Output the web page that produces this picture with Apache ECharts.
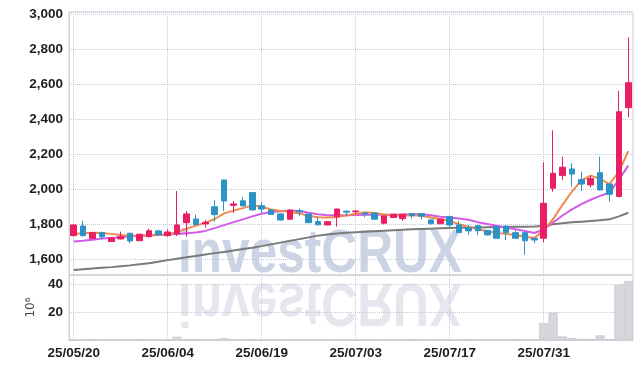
<!DOCTYPE html>
<html><head><meta charset="utf-8">
<script src="https://cdn.jsdelivr.net/npm/echarts@6/dist/echarts.min.js"></script>
<style>html,body{margin:0;padding:0;background:#fff}#c{width:643px;height:369px}</style>
</head><body><div id="c"></div>
<script>
const dates = ['25/05/20','25/05/21','25/05/22','25/05/23','25/05/26','25/05/27','25/05/28','25/05/29','25/05/30','25/06/02',
 '25/06/04','25/06/05','25/06/09','25/06/10','25/06/11','25/06/12','25/06/13','25/06/16','25/06/17','25/06/18',
 '25/06/19','25/06/20','25/06/23','25/06/24','25/06/25','25/06/26','25/06/27','25/06/30','25/07/01','25/07/02',
 '25/07/03','25/07/04','25/07/07','25/07/08','25/07/09','25/07/10','25/07/11','25/07/14','25/07/15','25/07/16',
 '25/07/17','25/07/18','25/07/21','25/07/22','25/07/23','25/07/24','25/07/25','25/07/28','25/07/29','25/07/30',
 '25/07/31','25/08/01','25/08/04','25/08/05','25/08/06','25/08/07','25/08/08','25/08/11','25/08/12','25/08/13'];
const opens  = [1735,1790,1718,1752,1701,1716,1749,1706,1729,1762, 1735,1745,1809,1830,1802,1900,2053,1908,1934,1981,
 1906,1882,1859,1829,1878,1858,1815,1796,1843,1875, 1872,1864,1864,1806,1838,1832,1861,1861,1825,1803,
 1845,1796,1780,1792,1765,1786,1790,1752,1752,1720, 1720,2006,2078,2116,2055,2025,2095,2030,1958,2466];
const closes = [1796,1735,1752,1729,1722,1729,1705,1743,1763,1739, 1756,1796,1859,1798,1811,1855,1933,1916,1905,1882,
 1887,1856,1824,1881,1871,1809,1797,1815,1887,1869, 1876,1858,1829,1847,1857,1857,1850,1846,1803,1829,
 1796,1752,1762,1763,1739,1720,1752,1720,1706,1710, 1920,2091,2126,2087,2030,2061,1996,1971,2443,2609];
const lows   = [1730,1729,1716,1714,1699,1714,1691,1704,1725,1737, 1727,1733,1729,1795,1780,1815,1876,1863,1903,1878,
 1866,1853,1819,1827,1848,1806,1794,1794,1786,1846, 1860,1840,1826,1800,1836,1819,1832,1828,1800,1800,
 1780,1750,1739,1739,1736,1718,1710,1718,1625,1691, 1697,1986,2053,2015,1990,2010,1994,1929,1955,2411];
const highs  = [1800,1819,1755,1758,1724,1758,1750,1745,1775,1769, 1771,1990,1876,1855,1826,1937,2055,1933,1955,1983,
 1926,1884,1861,1883,1890,1860,1840,1817,1889,1878, 1881,1870,1866,1849,1859,1859,1863,1863,1827,1831,
 1847,1819,1796,1794,1767,1788,1792,1765,1754,1722, 2154,2337,2186,2149,2101,2078,2186,2032,2562,2869];
const ma5  = [1745,1748,1752,1750,1745,1738,1735,1735,1738,1740, 1742,1755,1775,1792,1808,1830,1862,1878,1892,1908,
 1900,1884,1876,1872,1862,1848,1840,1838,1842,1850, 1860,1868,1865,1856,1850,1850,1852,1848,1838,1830,
 1818,1800,1785,1772,1760,1750,1745,1738,1728,1722, 1764,1830,1911,1987,2050,2078,2060,2030,2100,2218];
const ma20 = [1701,1706,1712,1718,1722,1726,1730,1733,1736,1739, 1741,1744,1748,1753,1762,1778,1795,1812,1828,1845,
 1860,1870,1875,1878,1876,1866,1857,1852,1851,1852, 1853,1854,1854,1854,1855,1856,1857,1857,1852,1843,
 1838,1833,1826,1812,1802,1792,1782,1772,1762,1750, 1770,1810,1850,1885,1915,1940,1962,1980,2055,2135];
const ma60 = [1539,1543,1547,1551,1555,1560,1565,1571,1577,1586, 1595,1603,1611,1619,1627,1635,1642,1650,1658,1666,
 1675,1685,1695,1705,1715,1725,1735,1742,1747,1751, 1754,1757,1760,1763,1766,1769,1771,1773,1775,1777,
 1779,1780,1781,1782,1783,1784,1785,1786,1786,1787, 1790,1800,1806,1811,1815,1819,1823,1828,1845,1866];
const volumes = [0.2,0.2,0.2,0.2,0.2,0.2,0.2,0.2,0.2,0.2, 0.2,2.3,0.5,0.2,0.2,0.5,1.2,0.2,0.2,0.2,
 0.2,0.2,0.2,0.2,0.2,0.2,0.2,0.2,0.2,0.2, 0.2,0.2,0.2,0.2,0.2,0.2,0.2,0.2,0.2,0.2,
 0.2,0.2,0.2,0.2,0.2,0.2,0.2,0.2,0.2,0.2, 12,19.5,2.6,1.4,0.7,0.7,3.3,0.7,39.3,42.1];
const volumeUnit = '10\u2076';
const watermark = 'investCRUX';

const FONT = "'Liberation Sans','Arial',sans-serif";
const candles = dates.map((d, i) => [opens[i], closes[i], lows[i], highs[i]]);
const split = {show: true, interval: 9, alignWithLabel: true, lineStyle: {type: 'dotted', color: '#c4cad8', width: 1}};
const labelStyle = {fontFamily: FONT, fontSize: 13.5, fontWeight: 'bold', color: '#1e1e1e'};

const chart = echarts.init(document.getElementById('c'), null, {renderer: 'canvas'});
chart.setOption({
  animation: false,
  backgroundColor: '#fff',
  graphic: [
    {type: 'text', z: 0, x: 178, y: 286, scaleX: 0.8, style: {text: watermark, x: 0, y: 0, font: 'bold 62px ' + FONT, fill: '#ccd3e5', textVerticalAlign: 'bottom'}},
    {type: 'text', z: 0, x: 178, y: 270, scaleX: 0.8, scaleY: -1, style: {text: watermark, x: 0, y: 0, font: 'bold 62px ' + FONT, fill: '#e5e6ee', textVerticalAlign: 'bottom'}}
  ],
  grid: [
    {left: 69, right: 10, top: 12, height: 263, show: true, borderColor: '#cfd1d8', borderWidth: 1, backgroundColor: 'transparent'},
    {left: 69, right: 10, top: 275, height: 65, show: true, borderColor: '#cfd1d8', borderWidth: 1, backgroundColor: 'transparent'}
  ],
  xAxis: [
    {type: 'category', gridIndex: 0, data: dates, boundaryGap: true,
     axisLine: {show: false}, axisTick: {show: false}, axisLabel: {show: false}, splitLine: split},
    {type: 'category', gridIndex: 1, data: dates, boundaryGap: true,
     axisLine: {show: true, lineStyle: {color: '#cfd1d8'}}, axisTick: {show: false},
     axisLabel: Object.assign({interval: 9, margin: 6}, labelStyle),
     splitLine: split}
  ],
  yAxis: [
    {type: 'value', gridIndex: 0, min: 1510, max: 3013, splitNumber: 7, scale: true,
     axisLine: {show: true, lineStyle: {color: '#cfd1d8', width: 1}}, axisTick: {show: false},
     axisLabel: Object.assign({margin: 6, padding: [4, 0, 0, 0], formatter: v => (v % 200 === 0 ? echarts.format.addCommas(v) : '')}, labelStyle),
     splitLine: {show: true, lineStyle: {type: 'dotted', color: '#c4cad8'}}},
    {type: 'value', gridIndex: 1, min: 0, max: 46.4, splitNumber: 2,
     name: volumeUnit, nameLocation: 'middle', nameRotate: 90, nameGap: 22,
     nameTextStyle: {fontFamily: 'DejaVu Sans', fontSize: 12, color: '#444'},
     axisLine: {show: true, lineStyle: {color: '#cfd1d8'}}, axisTick: {show: false},
     axisLabel: Object.assign({margin: 6, padding: [4, 0, 0, 0], formatter: v => (v > 0 && v % 20 === 0 ? String(v) : '')}, labelStyle),
     splitLine: {show: true, lineStyle: {type: 'dotted', color: '#c4cad8'}}}
  ],
  series: [
    {type: 'bar', xAxisIndex: 1, yAxisIndex: 1, data: volumes, barCategoryGap: '4%',
     itemStyle: {color: '#d6d6dd', borderColor: '#c2c2ca', borderWidth: 0.6}},
    {type: 'line', xAxisIndex: 0, yAxisIndex: 0, data: ma60, showSymbol: false, z: 3,
     lineStyle: {color: '#7a7a7a', width: 2}},
    {type: 'line', xAxisIndex: 0, yAxisIndex: 0, data: ma20, showSymbol: false, z: 3,
     lineStyle: {color: '#d15ce6', width: 2}},
    {type: 'line', xAxisIndex: 0, yAxisIndex: 0, data: ma5, showSymbol: false, z: 3,
     lineStyle: {color: '#ef8a4e', width: 2}},
    {type: 'candlestick', xAxisIndex: 0, yAxisIndex: 0, data: candles, barWidth: 6, z: 4,
     itemStyle: {color: '#e91e63', color0: '#2d93c6', borderColor: '#e91e63', borderColor0: '#2d93c6', borderWidth: 1}}
  ]
});
</script></body></html>
